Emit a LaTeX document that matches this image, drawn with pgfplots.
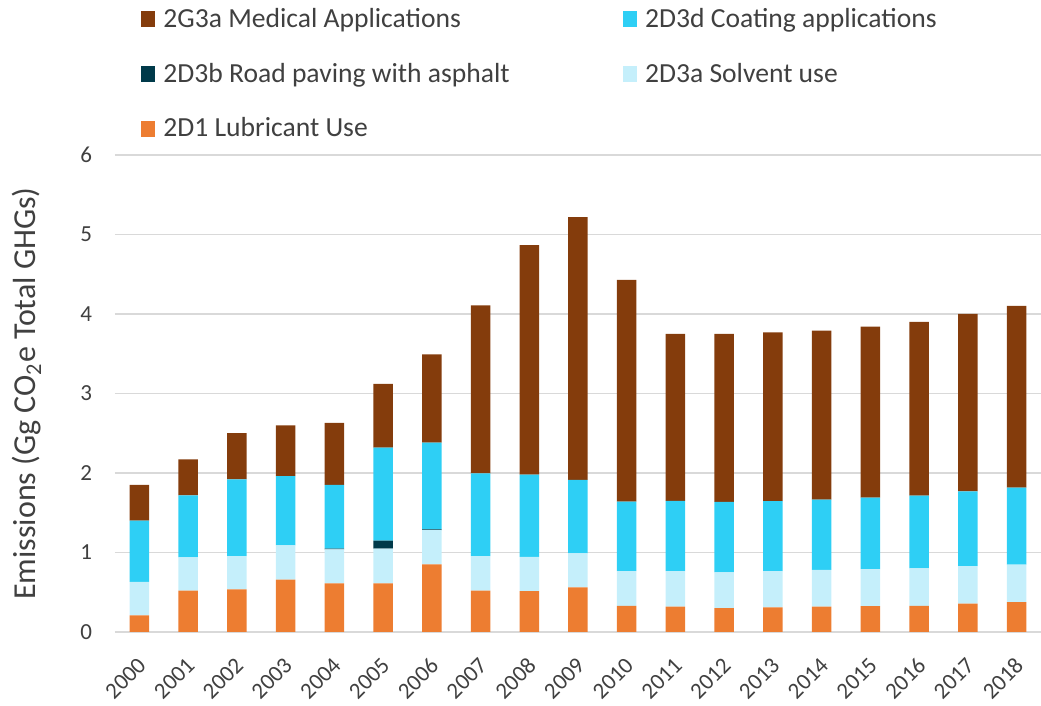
\documentclass[border=0pt]{standalone}
\usepackage{pgfplots}
\pgfplotsset{compat=1.18}
\usepackage{pgfplotstable}
\usepackage{fontspec}
\setmainfont{Carlito}

\definecolor{medical}{HTML}{843C0C}
\definecolor{coating}{HTML}{2ECFF5}
\definecolor{road}{HTML}{003A4A}
\definecolor{solvent}{HTML}{C5EFFB}
\definecolor{lubricant}{HTML}{ED7D31}
\definecolor{txt}{HTML}{404040}

% year index, lubricant, solvent, road, coating, medical
\pgfplotstableread{
x lub solv road coat med
0  0.21  0.42  0     0.77  0.45
1  0.52  0.42  0     0.78  0.45
2  0.535 0.42  0     0.965 0.58
3  0.66  0.43  0     0.87  0.64
4  0.61  0.43  0.01  0.80  0.78
5  0.61  0.44  0.10  1.17  0.80
6  0.85  0.43  0.012 1.09  1.11
7  0.52  0.435 0     1.04  2.115
8  0.515 0.43  0     1.035 2.885
9  0.56  0.43  0     0.925 3.305
10 0.33  0.435 0     0.875 2.79
11 0.32  0.445 0     0.885 2.10
12 0.30  0.45  0     0.886 2.114
13 0.31  0.455 0     0.88  2.125
14 0.32  0.46  0     0.885 2.125
15 0.326 0.464 0     0.90  2.15
16 0.33  0.47  0     0.915 2.185
17 0.356 0.474 0     0.94  2.23
18 0.376 0.47  0     0.97  2.285
}\emissions

\begin{document}
\begin{tikzpicture}
% page = 1041x706 px at 2 px per pt
\path[use as bounding box] (-57.5pt,-37pt) rectangle (463pt,316pt);
\begin{axis}[
    scale only axis,
    width=463pt, height=238.5pt,
    ybar stacked,
    bar width=0.4,
    xmin=-0.5, xmax=18.5,
    ymin=0, ymax=6,
    ytick={0,1,2,3,4,5,6},
    xtick={0,...,18},
    xticklabels={2000,2001,2002,2003,2004,2005,2006,2007,2008,2009,2010,2011,2012,2013,2014,2015,2016,2017,2018},
    x tick label style={anchor=east, inner sep=0.5pt, xshift=1.8pt, yshift=-14.5pt, rotate=45,
        font=\fontsize{11.5}{13}\selectfont},
    y tick label style={anchor=east, xshift=-8pt, font=\fontsize{11.5}{13}\selectfont},
    /pgf/number format/assume math mode=true,
    tick label style={text=txt},
    major tick length=0pt,
    axis line style={draw=none},
    ymajorgrids=true,
    grid style={draw=black!15, line width=0.8pt},
    ylabel={Emissions (Gg CO\textsubscript{2}e Total GHGs)},
    ylabel style={at={(axis description cs:-0.095,0.5)}, anchor=center,
        font=\fontsize{16}{18}\selectfont, text=txt},
    reverse legend,
    legend columns=2,
    legend cell align=left,
    legend style={draw=none, fill=none, inner sep=0pt,
        at={(axis description cs:0.0281,1.317)}, anchor=north west,
        font=\fontsize{13.8}{15}\selectfont, text=txt,
        nodes={inner sep=2pt},
        /tikz/every even column/.append style={column sep=54.7pt},
        row sep=12.25pt},
    legend image code/.code={\fill[#1] (0pt,-4pt) rectangle (7pt,4pt); \path (9pt,0pt);},
]
\addplot[fill=lubricant, draw=none] table[x=x, y=lub] {\emissions};
\addlegendentry{2D1 Lubricant Use}
\addplot[fill=solvent, draw=none] table[x=x, y=solv] {\emissions};
\addlegendentry{2D3a Solvent use}
\addplot[fill=road, draw=none] table[x=x, y=road] {\emissions};
\addlegendentry{2D3b Road paving with asphalt}
\addplot[fill=coating, draw=none] table[x=x, y=coat] {\emissions};
\addlegendentry{2D3d Coating applications}
\addplot[fill=medical, draw=none] table[x=x, y=med] {\emissions};
\addlegendentry{2G3a Medical Applications}
\end{axis}
\end{tikzpicture}
\end{document}
